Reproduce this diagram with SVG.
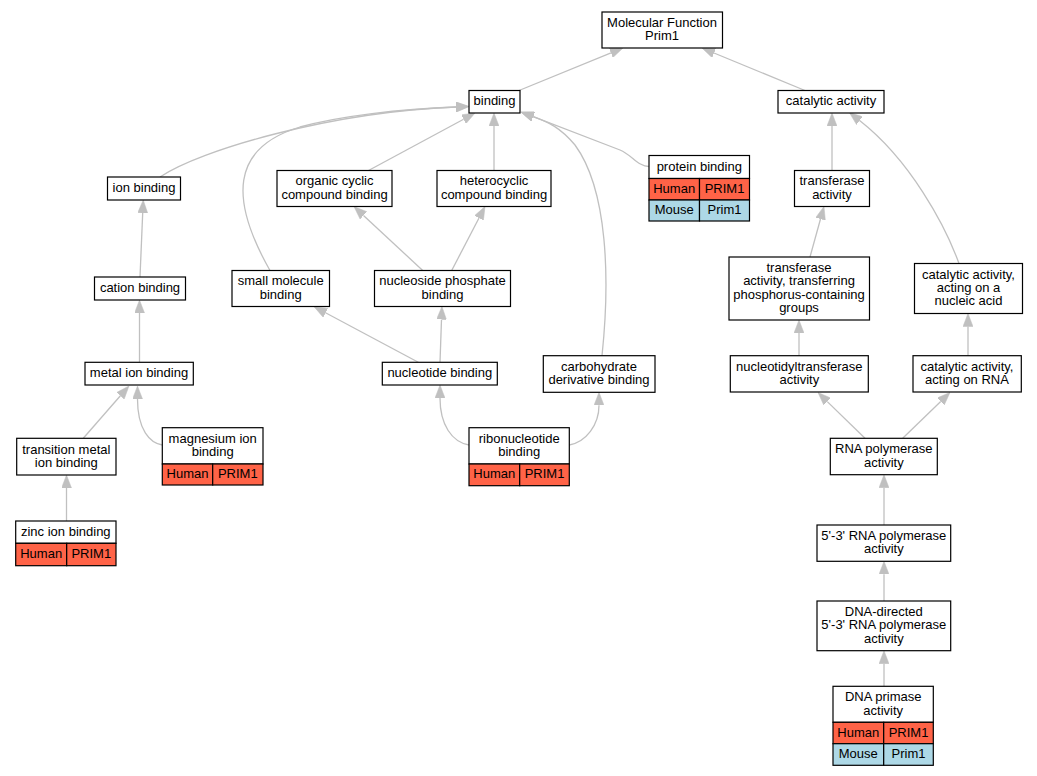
<svg xmlns="http://www.w3.org/2000/svg" width="1037" height="776" viewBox="0 0 1037 776">
<style>
.n{fill:#fff;stroke:#000;stroke-width:1.2}
.h{fill:#ff6347;stroke:#000;stroke-width:1.2}
.m{fill:#add8e6;stroke:#000;stroke-width:1.2}
text{font-family:"Liberation Sans",Arial,sans-serif;font-size:13px;fill:#000;text-anchor:middle}
.e path{fill:none;stroke:#c0c0c0;stroke-width:1.3;marker-end:url(#a)}
</style>
<defs>
<marker id="a" viewBox="0 0 13 10" refX="0" refY="5" markerWidth="13" markerHeight="10" markerUnits="userSpaceOnUse" orient="auto">
<path d="M0,0 L13,5 L0,10 z" fill="#c0c0c0" stroke="#c0c0c0" stroke-width="0.5"/>
</marker>
</defs>
<rect width="1037" height="776" fill="#fff"/>
<g class="e" id="edges">
<path d="M519,90.5 L611,52.9"/>
<path d="M805,90.5 L714,53"/>
<path d="M160,177 C200,150 330,112 456,107"/>
<path d="M270,270.5 C230,200 230,148 300,127 C340,116 400,109 456,107"/>
<path d="M368.5,170.5 L463.6,119.2"/>
<path d="M494,170.5 L494,126"/>
<path d="M649,166.5 C638,166.5 632,155 620,150 L533.2,116.6"/>
<path d="M602,355.7 C610,280 608,190 575,145 C560,127 548,122 533.2,116.6"/>
<path d="M140,277 L142.7,213"/>
<path d="M422.7,270.5 L363.5,215.4"/>
<path d="M451.7,270.5 L479,218"/>
<path d="M139.5,362.3 L139.5,313"/>
<path d="M418.3,362.3 L325.5,312.8"/>
<path d="M440,362.3 L441.5,319.5"/>
<path d="M83.3,438.3 L120.4,395.8"/>
<path d="M162.3,445 C150,443 137.5,430 137.5,399"/>
<path d="M66.5,521 L66.5,488"/>
<path d="M469,445 C452,442 440,425 440,398"/>
<path d="M569.3,445 C586,442 599,425 599,405.3"/>
<path d="M832,170.5 L832,126"/>
<path d="M959,263.5 C945,225 910,160 859.6,120.6"/>
<path d="M810,257 L820.5,219"/>
<path d="M799,355.7 L799,333"/>
<path d="M968,355.7 L968,326.5"/>
<path d="M865,438.3 L827.3,401.6"/>
<path d="M902.7,438.3 L940.7,401.5"/>
<path d="M884,525 L884,487.7"/>
<path d="M884,601 L884,574.3"/>
<path d="M884,686.3 L884,663.7"/>
</g>
<g id="mf"><rect class="n" x="602" y="12" width="120.5" height="36"/><text x="662" y="26.9">Molecular Function</text><text x="662" y="40.2">Prim1</text></g>
<g id="binding"><rect class="n" x="469" y="90.5" width="51" height="22.5"/><text x="494.5" y="105.3">binding</text></g>
<g id="catalytic"><rect class="n" x="778" y="90.5" width="106" height="22.5"/><text x="831" y="105.3">catalytic activity</text></g>
<g id="ionbinding"><rect class="n" x="107.5" y="177" width="73" height="23"/><text x="144" y="192.1">ion binding</text></g>
<g id="organic"><rect class="n" x="277" y="170.5" width="115" height="36"/><text x="334.5" y="185.4">organic cyclic</text><text x="334.5" y="198.7">compound binding</text></g>
<g id="heterocyclic"><rect class="n" x="437" y="170.5" width="114" height="36"/><text x="494" y="185.4">heterocyclic</text><text x="494" y="198.7">compound binding</text></g>
<g id="protein"><rect class="n" x="649" y="155.5" width="100.5" height="23"/><text x="699.3" y="170.6">protein binding</text>
<rect class="h" x="649" y="178.5" width="50.5" height="21.5"/><rect class="h" x="699.5" y="178.5" width="50" height="21.5"/><text x="674.2" y="192.8">Human</text><text x="724.5" y="192.8">PRIM1</text>
<rect class="m" x="649" y="200" width="50.5" height="21"/><rect class="m" x="699.5" y="200" width="50" height="21"/><text x="674.2" y="214.1">Mouse</text><text x="724.5" y="214.1">Prim1</text></g>
<g id="transferase"><rect class="n" x="794.5" y="170.5" width="75" height="36"/><text x="832" y="185.4">transferase</text><text x="832" y="198.7">activity</text></g>
<g id="smallmolecule"><rect class="n" x="232" y="270.5" width="97.5" height="36"/><text x="280.7" y="285.4">small molecule</text><text x="280.7" y="298.7">binding</text></g>
<g id="nucleoside"><rect class="n" x="374.5" y="270.5" width="136" height="36"/><text x="442.5" y="285.4">nucleoside phosphate</text><text x="442.5" y="298.7">binding</text></g>
<g id="cation"><rect class="n" x="94.5" y="277" width="91" height="23"/><text x="140" y="292.1">cation binding</text></g>
<g id="phosphorus"><rect class="n" x="729" y="257" width="140.5" height="63"/><text x="799" y="272.1">transferase</text><text x="799" y="285.4">activity, transferring</text><text x="799" y="298.7">phosphorus-containing</text><text x="799" y="312">groups</text></g>
<g id="nucleicacid"><rect class="n" x="914.5" y="263.5" width="108" height="50"/><text x="968.5" y="278.8">catalytic activity,</text><text x="968.5" y="292.1">acting on a</text><text x="968.5" y="305.4">nucleic acid</text></g>
<g id="metalion"><rect class="n" x="85" y="362.3" width="108.3" height="22.7"/><text x="139" y="377.2">metal ion binding</text></g>
<g id="nucleotide"><rect class="n" x="382.3" y="362.3" width="115" height="22.7"/><text x="439.8" y="377.2">nucleotide binding</text></g>
<g id="carbohydrate"><rect class="n" x="543.3" y="355.7" width="111.7" height="36.6"/><text x="599" y="370.9">carbohydrate</text><text x="599" y="384.2">derivative binding</text></g>
<g id="nucleotidyl"><rect class="n" x="730.3" y="355.7" width="138" height="36.3"/><text x="799.3" y="370.8">nucleotidyltransferase</text><text x="799.3" y="384.1">activity</text></g>
<g id="onrna"><rect class="n" x="913" y="355.7" width="108.3" height="36.3"/><text x="967" y="370.8">catalytic activity,</text><text x="967" y="384.1">acting on RNA</text></g>
<g id="transition"><rect class="n" x="16.7" y="438.3" width="99.3" height="36.7"/><text x="66.3" y="453.6">transition metal</text><text x="66.3" y="466.9">ion binding</text></g>
<g id="magnesium"><rect class="n" x="162.3" y="427.7" width="100.7" height="36.3"/><text x="212.7" y="442.8">magnesium ion</text><text x="212.7" y="456.1">binding</text>
<rect class="h" x="162.3" y="464" width="50.4" height="21"/><rect class="h" x="212.7" y="464" width="50.3" height="21"/><text x="187.5" y="478.1">Human</text><text x="237.8" y="478.1">PRIM1</text></g>
<g id="ribonucleotide"><rect class="n" x="469" y="427.7" width="100.3" height="36.3"/><text x="519.2" y="442.8">ribonucleotide</text><text x="519.2" y="456.1">binding</text>
<rect class="h" x="469" y="464" width="50.7" height="21.7"/><rect class="h" x="519.7" y="464" width="49.6" height="21.7"/><text x="494.3" y="478.4">Human</text><text x="544.5" y="478.4">PRIM1</text></g>
<g id="rnapol"><rect class="n" x="830.3" y="438.3" width="107" height="36.4"/><text x="883.8" y="453.4">RNA polymerase</text><text x="883.8" y="466.7">activity</text></g>
<g id="zinc"><rect class="n" x="15.7" y="521" width="100.3" height="22.3"/><text x="65.8" y="535.7">zinc ion binding</text>
<rect class="h" x="15.7" y="543.3" width="51" height="22.4"/><rect class="h" x="66.7" y="543.3" width="49.3" height="22.4"/><text x="41.2" y="558.1">Human</text><text x="91.3" y="558.1">PRIM1</text></g>
<g id="rnapol53"><rect class="n" x="817" y="525" width="133.7" height="36.3"/><text x="883.8" y="540.1">5'-3' RNA polymerase</text><text x="883.8" y="553.4">activity</text></g>
<g id="dnadirected"><rect class="n" x="817" y="601" width="133.7" height="49.7"/><text x="883.8" y="616.1">DNA-directed</text><text x="883.8" y="629.4">5'-3' RNA polymerase</text><text x="883.8" y="642.7">activity</text></g>
<g id="primase"><rect class="n" x="833" y="686.3" width="100.3" height="36"/><text x="883.2" y="701.2">DNA primase</text><text x="883.2" y="714.5">activity</text>
<rect class="h" x="833" y="722.3" width="50.7" height="21.4"/><rect class="h" x="883.7" y="722.3" width="49.6" height="21.4"/><text x="858.3" y="736.6">Human</text><text x="908.5" y="736.6">PRIM1</text>
<rect class="m" x="833" y="743.7" width="50.7" height="21.6"/><rect class="m" x="883.7" y="743.7" width="49.6" height="21.6"/><text x="858.3" y="758.1">Mouse</text><text x="908.5" y="758.1">Prim1</text></g>
</svg>
